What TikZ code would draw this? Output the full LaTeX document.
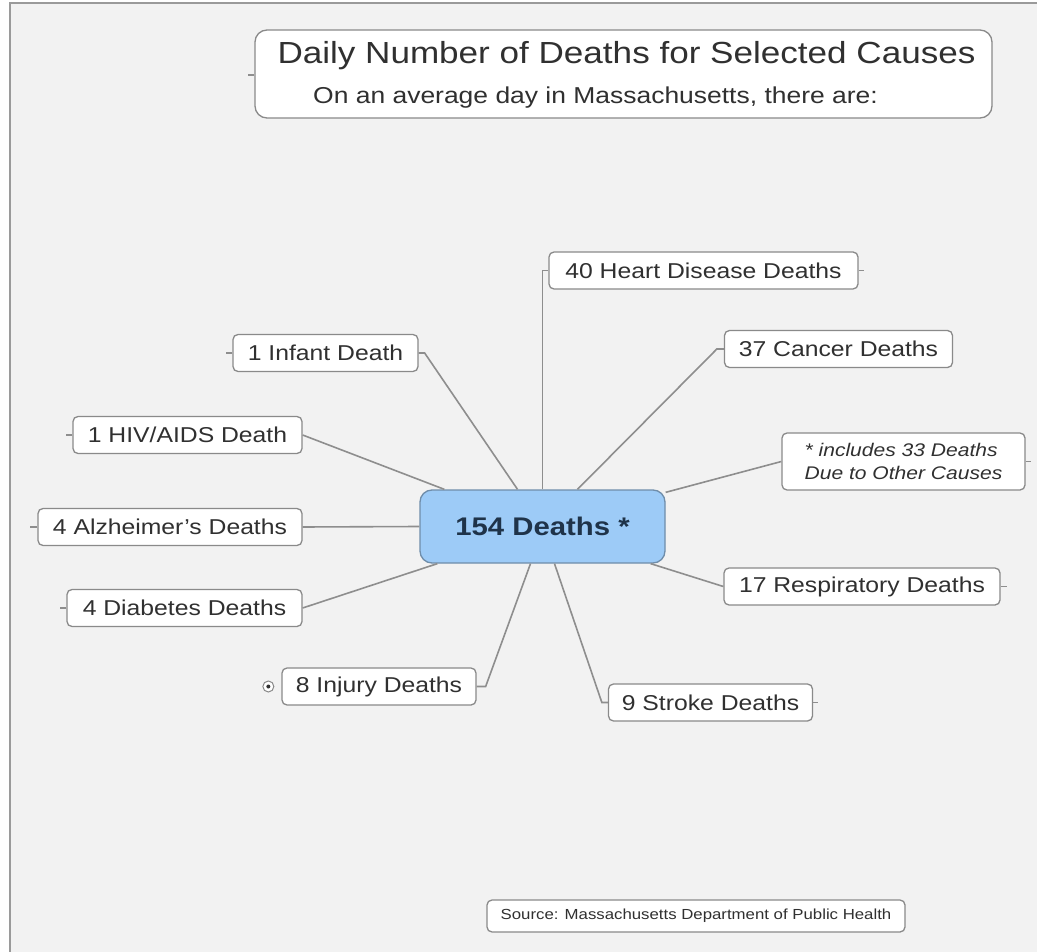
\documentclass[tikz,border=0pt]{standalone}
\usepackage{fontspec}
\setmainfont{Liberation Sans}[FakeStretch=1.15]
\usetikzlibrary{positioning,shapes}

\definecolor{bgcol}{HTML}{F2F2F2}
\definecolor{framecol}{HTML}{9A9A9A}
\definecolor{linecol}{HTML}{8E8E8E}
\definecolor{boxcol}{HTML}{8A8A8A}
\definecolor{textcol}{HTML}{303030}
\definecolor{hubfill}{HTML}{9DCBF7}
\definecolor{hubdraw}{HTML}{6F8DAA}
\definecolor{hubtext}{HTML}{1F3349}

\begin{document}
\begin{tikzpicture}[x=1pt,y=-1pt]
		\tikzstyle{cause}=[draw=boxcol,fill=white,rounded corners=5pt,line width=1.3pt,minimum height=37pt,text=textcol,font=\fontsize{21.5}{24}\selectfont,inner sep=0pt]
		\tikzstyle{hub}=[draw=hubdraw,fill=hubfill,rounded corners=12pt,line width=1.3pt,minimum width=245pt,minimum height=73pt,text=hubtext,font=\fontsize{25.5}{28}\selectfont\bfseries]
		\tikzstyle{link}=[linecol,line width=1.6pt]
		\tikzstyle{stub}=[linecol,line width=1.2pt]
		
		% page and frame
		\useasboundingbox (0,0) rectangle (1037,952);
		\fill[white] (0,0) rectangle (1037,952);
		\fill[bgcol] (10,3) rectangle (1037,952);
		\draw[framecol,line width=1.5pt] (10,952) -- (10,3) -- (1037,3);
		
		% title
		\node[cause,minimum width=737pt,minimum height=88pt,rounded corners=12pt] (title) at (623.5,74) {};
		\node[text=textcol,font=\fontsize{30.5}{34}\selectfont] (head) at (626.5,56) {Daily Number of Deaths for Selected Causes};
		\node[text=textcol,font=\fontsize{23}{26}\selectfont] (sub) at (595.5,98) {On an average day in Massachusetts, there are:};
		\draw [stub] (title.west) ++(0,1) -- ++(-6,0);
		
		% hub
		\node[hub] (c) at (542.5,526.5) {154 Deaths *};
		
		% right side
		\node[cause,minimum width=309pt] (heart) at (703.5,270.5) {40 Heart Disease Deaths};
		\node[cause,minimum width=228pt] (cancer) at (838.5,349) {37 Cancer Deaths};
		\node[cause,minimum width=243pt,minimum height=57pt,align=left,font=\fontsize{18.3}{23}\selectfont\itshape] (note) at (903.5,461.5) {* includes 33 Deaths\\Due to Other Causes};
		\node[cause,minimum width=276pt] (resp) at (862,586.5) {17 Respiratory Deaths};
		\node[cause,minimum width=204pt] (stroke) at (710.5,702.5) {9 Stroke Deaths};
		
		% left side
		\node[cause,minimum width=185pt] (infant) at (325.5,353) {1 Infant Death};
		\node[cause,minimum width=229pt] (hiv) at (187.5,435) {1 HIV/AIDS Death};
		\node[cause,minimum width=264pt] (alz) at (170,527) {4 Alzheimer's Deaths};
		\node[cause,minimum width=235pt] (diab) at (184.5,608) {4 Diabetes Deaths};
		\node[cause,minimum width=194pt] (injury) at (379,686.5) {8 Injury Deaths};
		\node[circle,draw=boxcol,fill=white,line width=1pt,minimum size=11pt,inner sep=0pt,left=7pt of injury] (more) {};
		\fill[textcol] (more.center) circle (2pt);
		
		% source
		\node[cause,minimum width=418pt,minimum height=32pt,font=\fontsize{14.6}{17}\selectfont] (src) at (696,916) {Source: Massachusetts Department of Public Health};
		
		% connectors
		\draw [link] (c.north) |- (heart.west);
		\draw [link] ([xshift=35]c.north) -- ([xshift=-7]cancer.west) -- (cancer.west);
		\draw [link] ([yshift=-3]c.north east) -- (note.west);
		\draw [link] ([xshift=-15]c.south east) -- (resp.west);
		\draw [link] ([xshift=12]c.south) -- ([xshift=-6]stroke.west) -- (stroke.west);
		\draw [link] ([xshift=-25]c.north) -- ([xshift=6]infant.east) -- (infant.east);
		\draw [link] ([xshift=25]c.north west) -- (hiv.east);
		\draw [link] (c.west) -- (alz.east);
		\draw [link] ([xshift=18]c.south west) -- (diab.east);
		\draw [link] ([xshift=-12]c.south) -- ([xshift=9]injury.east) -- (injury.east);
		
		% little end stubs
		\draw [stub] (heart.east) -- ++(5,0);
		\draw [stub] (note.east) -- ++(5,0);
		\draw [stub] (resp.east) -- ++(6,0);
		\draw [stub] (stroke.east) -- ++(5,0);
		\draw [stub] (infant.west) -- ++(-6,0);
		\draw [stub] (hiv.west) -- ++(-6,0);
		\draw [stub] (alz.west) -- ++(-7,0);
		\draw [stub] (diab.west) -- ++(-6,0);
\end{tikzpicture}
\end{document}
